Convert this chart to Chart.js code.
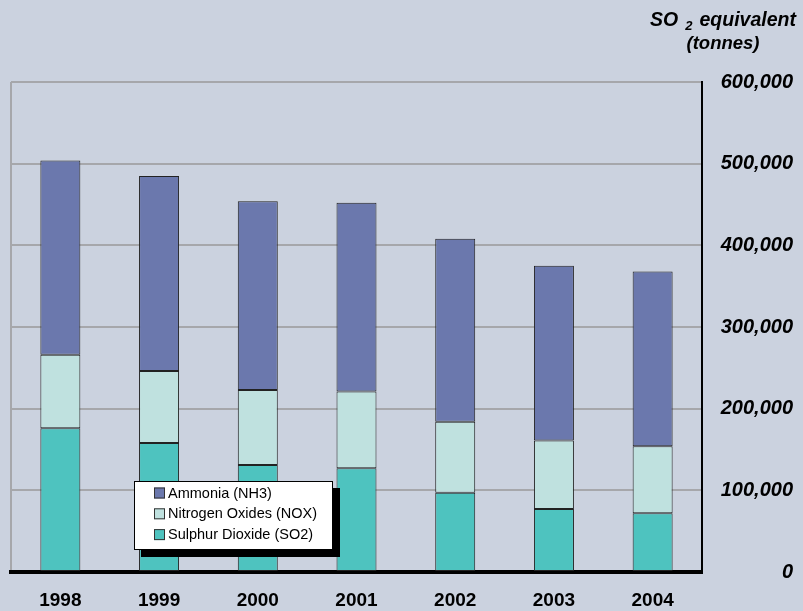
<!DOCTYPE html>
<html>
<head>
<meta charset="utf-8">
<script src="https://cdn.jsdelivr.net/npm/chart.js@4.4.1/dist/chart.umd.min.js"></script>
<style>
  html, body { margin: 0; padding: 0; background: #cbd2df; }
  #c { display: block; }
</style>
</head>
<body>
<canvas id="c" width="803" height="611"></canvas>
<script>
// Emissions of acidifying gases, SO2-equivalent tonnes
const years = ['1998', '1999', '2000', '2001', '2002', '2003', '2004'];
const sulphurDioxide = [176000, 158000, 131000, 127000, 97000, 77000, 72000];
const nitrogenOxides = [90000, 88000, 92000, 94000, 87000, 84000, 82000];
const ammonia = [238000, 239000, 231000, 231000, 224000, 214000, 214000];
const yTickValues = [0, 100000, 200000, 300000, 400000, 500000, 600000];
const axisTitle = ['SO', '2', 'equivalent', '(tonnes)'];

const FONT = "'Liberation Sans', Arial, Helvetica, sans-serif";
const BG = '#cbd2df';
const GRID = '#a6a7ab';

const background = {
  id: 'background',
  beforeDraw(chart) {
    const c = chart.ctx;
    c.save();
    c.fillStyle = BG;
    c.fillRect(0, 0, chart.width, chart.height);
    c.restore();
  }
};

// Boxed legend with a drop shadow, plus the unit title above the value axis
const overlay = {
  id: 'overlay',
  afterDraw(chart) {
    const c = chart.ctx;
    c.save();

    // unit title: "SO" with subscript 2, then "equivalent"; "(tonnes)" below
    c.fillStyle = '#000';
    c.textBaseline = 'alphabetic';
    const big = 'italic bold 19.5px ' + FONT;
    const small = 'italic bold 13px ' + FONT;
    const gap = 7;
    c.font = big;
    const w1 = c.measureText(axisTitle[0]).width;
    const w3 = c.measureText(axisTitle[2]).width;
    c.font = small;
    const w2 = c.measureText(axisTitle[1]).width;
    const cx = 723;
    let x = cx - (w1 + gap + w2 + gap + w3) / 2;
    c.textAlign = 'left';
    c.font = big;
    c.fillText(axisTitle[0], x, 26);
    x += w1 + gap;
    c.font = small;
    c.fillText(axisTitle[1], x, 30);
    x += w2 + gap;
    c.font = big;
    c.fillText(axisTitle[2], x, 26);
    c.font = 'italic bold 18.5px ' + FONT;
    c.textAlign = 'center';
    c.fillText(axisTitle[3], cx, 49);

    // legend
    const bx = 134, by = 481, bw = 199, bh = 69, sh = 7;
    c.fillStyle = '#000';
    c.fillRect(bx + sh, by + sh, bw, bh);
    c.fillStyle = '#fff';
    c.fillRect(bx, by, bw, bh);
    c.strokeStyle = '#000';
    c.lineWidth = 1;
    c.strokeRect(bx + 0.5, by + 0.5, bw - 1, bh - 1);

    const ds = chart.data.datasets.slice().reverse();
    c.font = '14.5px ' + FONT;
    c.textAlign = 'left';
    c.textBaseline = 'middle';
    ds.forEach((d, i) => {
      const yy = 493 + i * 20.8;
      c.fillStyle = d.backgroundColor;
      c.fillRect(154, yy - 5.5, 11, 11);
      c.strokeStyle = '#333';
      c.strokeRect(154.5, yy - 5, 10, 10);
      c.fillStyle = '#000';
      c.fillText(d.label, 168, yy + 0.5);
    });
    c.restore();
  }
};

new Chart(document.getElementById('c'), {
  type: 'bar',
  data: {
    labels: years,
    datasets: [
      { label: 'Sulphur Dioxide (SO2)', data: sulphurDioxide, backgroundColor: '#4ec3bf' },
      { label: 'Nitrogen Oxides (NOX)', data: nitrogenOxides, backgroundColor: '#bfe1df' },
      { label: 'Ammonia (NH3)', data: ammonia, backgroundColor: '#6b78ad' }
    ].map(d => Object.assign(d, {
      borderColor: '#222',
      borderWidth: 1,
      borderSkipped: false,
      barPercentage: 0.405,
      categoryPercentage: 1
    }))
  },
  options: {
    responsive: false,
    animation: false,
    devicePixelRatio: 1,
    layout: { padding: { left: 11, top: 82, right: 10, bottom: 0 } },
    plugins: { legend: { display: false }, tooltip: { enabled: false } },
    scales: {
      x: {
        stacked: true,
        grid: {
          display: true,
          offset: true,
          drawTicks: false,
          lineWidth: 2,
          color: ctx => (ctx.index === 0 ? GRID : 'rgba(0,0,0,0)')
        },
        border: { display: true, color: '#000', width: 4 },
        ticks: {
          color: '#000',
          font: { family: FONT, size: 19, weight: 'bold' },
          padding: 17,
          maxRotation: 0
        },
        afterFit: s => { s.height = 39; }
      },
      y: {
        stacked: true,
        position: 'right',
        min: 0,
        max: 600000,
        afterBuildTicks: s => { s.ticks = yTickValues.map(v => ({ value: v })); },
        grid: {
          drawTicks: false,
          lineWidth: 2,
          color: ctx => (ctx.tick && ctx.tick.value === 0 ? 'rgba(0,0,0,0)' : GRID)
        },
        border: { display: true, color: '#000', width: 2 },
        ticks: {
          color: '#000',
          crossAlign: 'far',
          padding: 8,
          font: { family: FONT, size: 20, weight: 'bold', style: 'italic' },
          callback: v => Number(v).toLocaleString('en-US')
        },
        afterFit: s => { s.width = 91; }
      }
    }
  },
  plugins: [background, overlay]
});
</script>
</body>
</html>
